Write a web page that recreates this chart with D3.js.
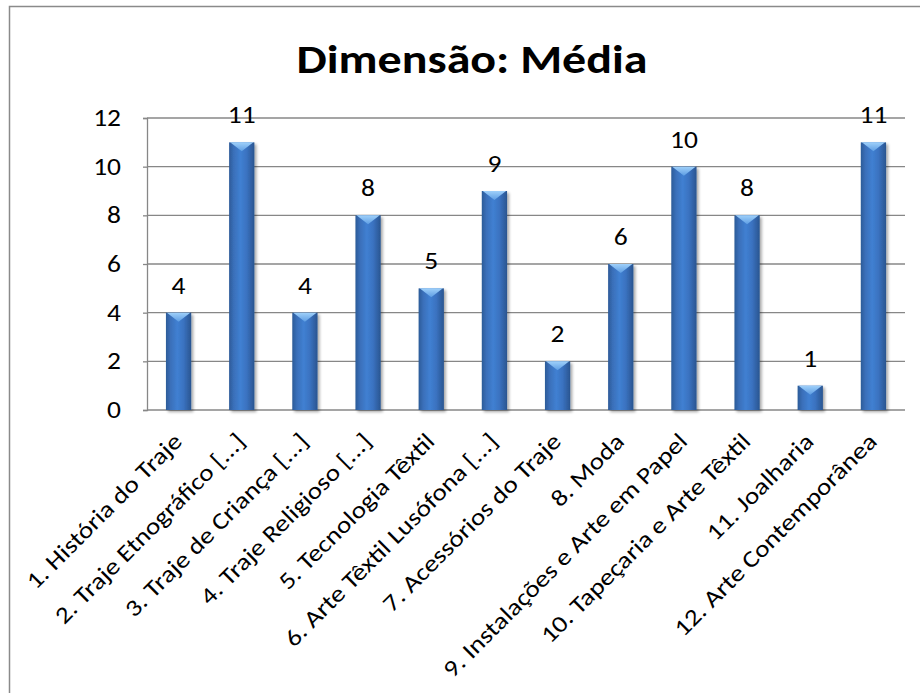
<!DOCTYPE html>
<html>
<head>
<meta charset="utf-8">
<script src="https://cdn.jsdelivr.net/npm/d3@7/dist/d3.min.js"></script>
<style>
  html, body { margin: 0; padding: 0; background: #fff; }
  svg { display: block; }
  text { font-family: Carlito, Lato, "Open Sans", sans-serif; fill: #000; }
</style>
</head>
<body>
<svg id="chart" width="920" height="693"></svg>
<script>
// Categories, values and axis ticks
const categories = [
  "1. História do Traje",
  "2. Traje Etnográfico [...]",
  "3. Traje de Criança [...]",
  "4. Traje Religioso [...]",
  "5. Tecnologia Têxtil",
  "6. Arte Têxtil Lusófona [...]",
  "7. Acessórios do Traje",
  "8. Moda",
  "9. Instalações e Arte em Papel",
  "10. Tapeçaria e Arte Têxtil",
  "11. Joalharia",
  "12. Arte Contemporânea"
];
const values = [4, 11, 4, 8, 5, 9, 2, 6, 10, 8, 1, 11];
const yTicks = [0, 2, 4, 6, 8, 10, 12];
const chartTitle = "Dimensão: Média";

const svg = d3.select("#chart");
const W = 920, H = 693;
const plot = { left: 147, right: 905, top: 118, bottom: 410 };
// horizontal widening of glyphs (Calibri-like proportions from Lato)
const sx = 1.17;

// Chart frame
svg.append("rect")
  .attr("x", 9.5).attr("y", 6.5)
  .attr("width", W + 20).attr("height", H + 20)
  .attr("fill", "#fff").attr("stroke", "#8a8a8a").attr("stroke-width", 1.5);

// Gradients for the bevelled bars
const defs = svg.append("defs");
const body = defs.append("linearGradient").attr("id", "barBody")
  .attr("x1", "0").attr("x2", "1").attr("y1", "0").attr("y2", "0");
[["0%", "#2c5b98"], ["18%", "#3a6fb9"], ["45%", "#4080d2"], ["70%", "#3a72c0"], ["100%", "#2a5590"]]
  .forEach(([o, c]) => body.append("stop").attr("offset", o).attr("stop-color", c));
const cap = defs.append("linearGradient").attr("id", "barCap")
  .attr("x1", "0").attr("x2", "0").attr("y1", "0").attr("y2", "1");
[["0%", "#9fd0fa"], ["100%", "#5d9de3"]]
  .forEach(([o, c]) => cap.append("stop").attr("offset", o).attr("stop-color", c));
const shadow = defs.append("filter").attr("id", "barShadow")
  .attr("x", "-30%").attr("y", "-10%").attr("width", "160%").attr("height", "130%");
shadow.append("feGaussianBlur").attr("in", "SourceAlpha").attr("stdDeviation", 1.6).attr("result", "b");
shadow.append("feOffset").attr("in", "b").attr("dx", 1.5).attr("dy", 1.5).attr("result", "o");
shadow.append("feComponentTransfer").attr("in", "o").attr("result", "s")
  .append("feFuncA").attr("type", "linear").attr("slope", 0.35);
const fm = shadow.append("feMerge");
fm.append("feMergeNode").attr("in", "s");
fm.append("feMergeNode").attr("in", "SourceGraphic");

// Scales
const x = d3.scaleBand().domain(categories).range([plot.left, plot.right]).paddingInner(0.6).paddingOuter(0.3);
const y = d3.scaleLinear().domain([0, 12]).range([plot.bottom, plot.top]);

// Horizontal gridlines
svg.append("g")
  .selectAll("line").data(yTicks.filter(t => t > 0)).join("line")
  .attr("x1", plot.left).attr("x2", plot.right)
  .attr("y1", d => y(d)).attr("y2", d => y(d))
  .attr("stroke", "#878787").attr("stroke-width", 1.3);

// Y axis
const yAxis = svg.append("g").attr("transform", `translate(${plot.left},0)`)
  .call(d3.axisLeft(y).tickValues(yTicks).tickSize(4).tickPadding(22));
yAxis.select(".domain").attr("stroke", "#878787").attr("stroke-width", 1.3);
yAxis.selectAll(".tick line").attr("stroke", "#878787").attr("stroke-width", 1.3);
yAxis.selectAll("text")
  .attr("font-size", 23.5).attr("font-family", "Carlito, Lato, sans-serif").attr("fill", "#000")
  .attr("x", -26 / sx)
  .attr("transform", `scale(${sx},1)`);

// X axis baseline
svg.append("line")
  .attr("x1", plot.left).attr("x2", plot.right)
  .attr("y1", y(0)).attr("y2", y(0))
  .attr("stroke", "#878787").attr("stroke-width", 1.3);

// Bars
const bw = x.bandwidth();
const bars = svg.append("g").selectAll("g").data(values).join("g")
  .attr("filter", "url(#barShadow)");
bars.append("rect")
  .attr("x", (d, i) => x(categories[i]))
  .attr("y", d => y(d))
  .attr("width", bw)
  .attr("height", d => y(0) - y(d))
  .attr("fill", "url(#barBody)");
// Top bevel: light triangle
bars.append("path")
  .attr("d", (d, i) => {
    const x0 = x(categories[i]), x1 = x0 + bw, t = y(d);
    const depth = Math.min(9, (y(0) - t) / 2);
    return `M${x0 + 1},${t}L${x1 - 1},${t}L${x0 + bw / 2},${t + depth}Z`;
  })
  .attr("fill", "url(#barCap)");

// Value labels
svg.append("g").selectAll("text").data(values).join("text")
  .attr("transform", (d, i) => `translate(${x(categories[i]) + bw / 2},${y(d) - 19}) scale(${sx},1)`)
  .attr("text-anchor", "middle")
  .attr("font-size", 23.5)
  .text(d => d);

// Category labels, rotated
svg.append("g").selectAll("text").data(categories).join("text")
  .attr("transform", d => `translate(${x(d) + bw / 2 - 1},${plot.bottom + 27}) rotate(-45) scale(${sx},1)`)
  .attr("text-anchor", "end")
  .attr("dy", "0.35em")
  .attr("font-size", 23.5)
  .text(d => d);

// Title
svg.append("text")
  .attr("transform", `translate(472,73) scale(${sx},1)`)
  .attr("text-anchor", "middle")
  .attr("font-size", 41)
  .attr("font-weight", "bold")
  .text(chartTitle);
</script>
</body>
</html>
